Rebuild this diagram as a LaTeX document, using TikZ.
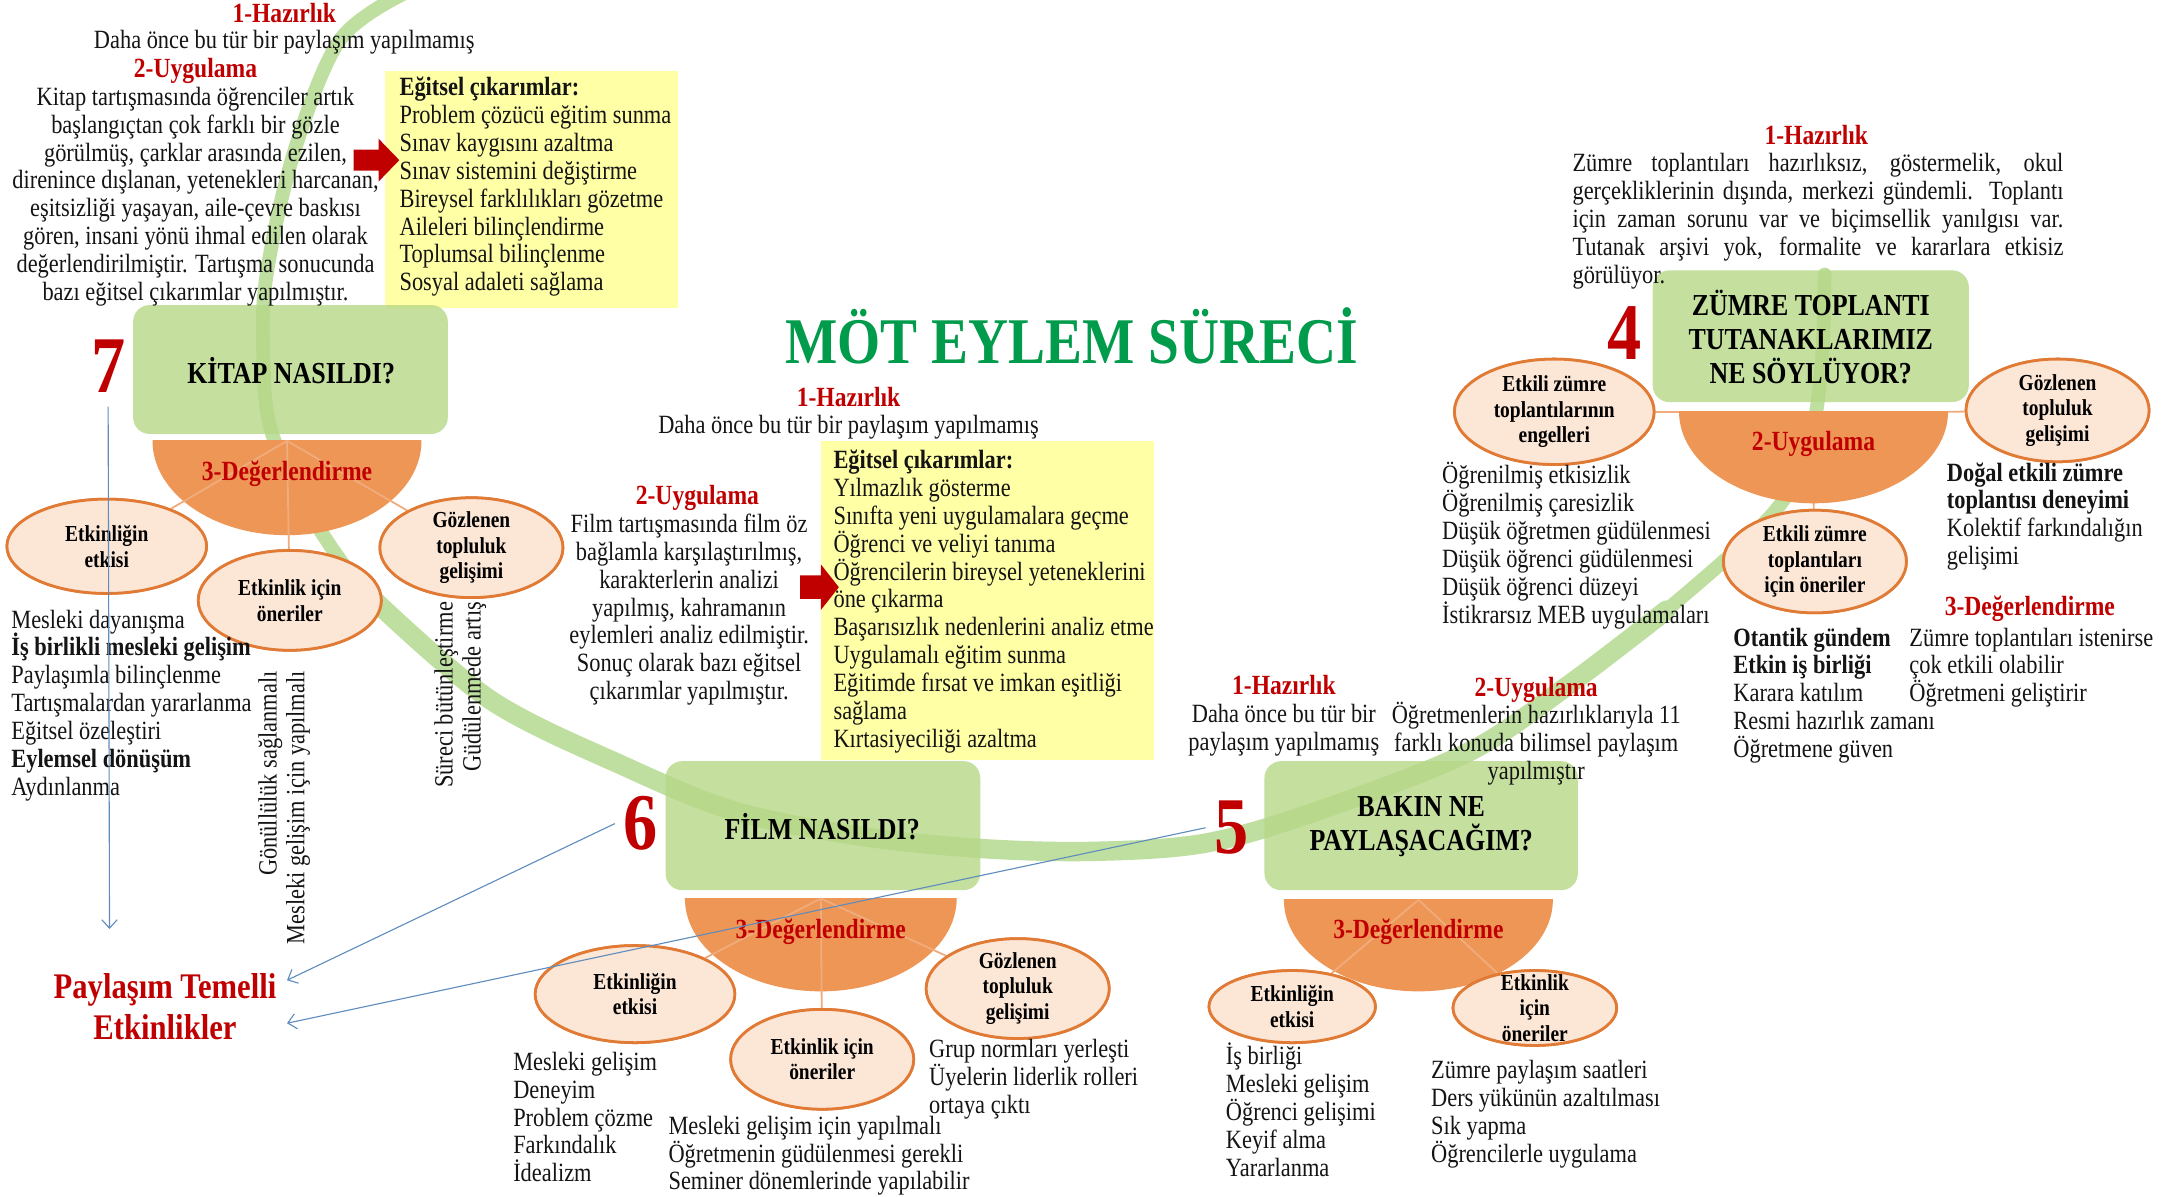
\documentclass[tikz,border=0pt]{standalone}
\usepackage{fontspec}
\setmainfont{Liberation Serif}[FakeStretch=0.85]
\usetikzlibrary{shapes.geometric,arrows.meta}
\definecolor{redtxt}{RGB}{192,0,0}
\definecolor{titlegreen}{RGB}{0,155,75}
\definecolor{boxgreen}{RGB}{183,216,136}
\definecolor{arcgreen}{RGB}{190,223,160}
\definecolor{discorange}{RGB}{238,150,85}
\definecolor{elfill}{RGB}{252,230,214}
\definecolor{elline}{RGB}{224,122,52}
\definecolor{linkorange}{RGB}{240,172,125}
\definecolor{yellowbox}{RGB}{255,255,165}
\definecolor{arrowblue}{RGB}{95,140,190}
\newcommand\txtlines[5]{%
  \foreach \itm [count=\k] in {#5}{%
    \node[txt,anchor=#2] (#1\k) at (#3,{#4+20.1*(\k-1)}) {\itm};}}
\newcommand\halfdisc[4]{%
  \begin{scope}\clip (#1-#3-2,#2) rectangle (#1+#3+2,#2+#4+2);
  \fill[disc] (#1,#2) ellipse[x radius=#3,y radius=#4];\end{scope}}
\begin{document}
\begin{tikzpicture}[x=1pt,y=-1pt,
  txt/.style={inner sep=0pt,text=black!92,font=\fontsize{19}{20.1}\selectfont},
  head/.style={inner sep=0pt,text=redtxt,font=\bfseries\fontsize{20}{22}\selectfont},
  gbox/.style={fill=boxgreen,fill opacity=0.8,rounded corners=12pt},
  boxlabel/.style={inner sep=0pt,align=center,font=\bfseries\fontsize{22}{24.5}\selectfont},
  num/.style={inner sep=0pt,text=redtxt,font=\bfseries\fontsize{58}{60}\selectfont},
  ybox/.style={fill=yellowbox},
  disc/.style={fill=discorange},
  link/.style={draw=linkorange,line width=1.3pt},
  elshape/.style={ellipse,draw=elline,line width=2pt,fill=elfill,inner sep=0pt},
  eltxt/.style={inner sep=0pt,align=center,font=\bfseries\fontsize{16.5}{18.5}\selectfont},
  barrow/.style={draw=arrowblue,line width=0.8pt,-{Straight Barb[length=6pt,width=11pt]}},
  redarr/.style={fill=redtxt},
  arcband/.style={draw=arcgreen,line cap=round,line join=round}
]
\useasboundingbox (0,0) rectangle (1568,863);
\fill[white] (0,0) rectangle (1568,863);

% green arc
\draw[arcband,line width=10pt] plot[smooth,tension=0.55] coordinates {(292,-5) (245,29) (212,110) (192,200) (190,260) (196,312) (225,373) (270,433) (354,505) (451,553) (530,585) (620,603) (708,612) (790,614) (870,608) (950,585) (1058,543) (1130,495) (1202,440) (1279,370) (1305,320) (1314,260) (1316,198)};
\draw[arcband,line width=14pt] plot[smooth,tension=0.55] coordinates {(270,433) (354,505) (451,553) (530,585) (620,603) (708,612) (790,614) (870,608) (950,585) (1058,543) (1130,495) (1202,440)};

% title
\node[inner sep=0pt,text=titlegreen,font=\bfseries\fontsize{47}{50}\selectfont] (title) at (773,242) {MÖT EYLEM SÜRECİ};

% ================= 7 =================
\fill[ybox] (278,51) rectangle (489,222);
\node[gbox,minimum width=227pt,minimum height=93pt,inner sep=0pt] (b7) at (209.5,266.5) {};
\node[boxlabel] (b7t) at (210,267) {KİTAP NASILDI?};
\node[num] (n7) at (78,264) {7};
\halfdisc{207}{318}{97}{68}
\coordinate (h7) at (207,318);
\node[elshape,minimum width=144pt,minimum height=68pt] (e7a) at (77,394) {};
\node[elshape,minimum width=132pt,minimum height=72pt] (e7b) at (209,433) {};
\node[elshape,minimum width=132pt,minimum height=72pt] (e7c) at (340,395) {};
\draw[link] (h7) -- (e7a); \draw[link] (h7) -- (e7b); \draw[link] (h7) -- (e7c);
\node[elshape,minimum width=144pt,minimum height=68pt] at (e7a) {};
\node[elshape,minimum width=132pt,minimum height=72pt] at (e7b) {};
\node[elshape,minimum width=132pt,minimum height=72pt] at (e7c) {};
\node[eltxt] (t7a) at (e7a) {Etkinliğin\\etkisi};
\node[eltxt] (t7b) at (e7b) {Etkinlik için\\öneriler};
\node[eltxt] (t7c) at (e7c) {Gözlenen\\topluluk\\gelişimi};
\node[head] (d7) at (207,342) {3-Değerlendirme};
\fill[redarr] (255,108) -- (273,108) -- (273,100) -- (288,115.5) -- (273,131) -- (273,123) -- (255,123) -- cycle;
\node[head,anchor=base] (h7a) at (205,16) {1-Hazırlık};
\node[txt,anchor=base] (h7b) at (205,35) {Daha önce bu tür bir paylaşım yapılmamış};
\node[head,anchor=base] (u7) at (141,56) {2-Uygulama};
\txtlines{P7}{base}{141}{76}{Kitap tartışmasında öğrenciler artık,başlangıçtan çok farklı bir gözle,{görülmüş, çarklar arasında ezilen,},{direnince dışlanan, yetenekleri harcanan,},{eşitsizliği yaşayan, aile-çevre baskısı},{gören, insani yönü ihmal edilen olarak},{değerlendirilmiştir. Tartışma sonucunda},{bazı eğitsel çıkarımlar yapılmıştır.}}
\txtlines{Y7}{base west}{288}{69}{\textbf{Eğitsel çıkarımlar:},Problem çözücü eğitim sunma,Sınav kaygısını azaltma,Sınav sistemini değiştirme,Bireysel farklılıkları gözetme,Aileleri bilinçlendirme,Toplumsal bilinçlenme,Sosyal adaleti sağlama}
\txtlines{L7}{base west}{8}{453}{Mesleki dayanışma,\textbf{İş birlikli mesleki gelişim},Paylaşımla bilinçlenme,Tartışmalardan yararlanma,Eğitsel özeleştiri,\textbf{Eylemsel dönüşüm},Aydınlanma}
\node[txt,rotate=90,anchor=east,align=right] (r7a) at (205,484) {Gönüllülük sağlanmalı\\Mesleki gelişim için yapılmalı};
\node[txt,rotate=90,anchor=east,align=right] (r7b) at (332,434) {Süreci bütünleştirme\\Güdülenmede artış};

% ================= 6 =================
\fill[ybox] (592,318) rectangle (832,548);
\node[gbox,minimum width=227pt,minimum height=93pt,inner sep=0pt] (b6) at (593.5,595.5) {};
\node[boxlabel] (b6t) at (593,596) {FİLM NASILDI?};
\node[num] (n6) at (462,594) {6};
\halfdisc{592}{648}{98}{67}
\coordinate (h6) at (592,648);
\node[elshape,minimum width=144pt,minimum height=70pt] (e6a) at (458,717) {};
\node[elshape,minimum width=132pt,minimum height=72pt] (e6b) at (593,764) {};
\node[elshape,minimum width=132pt,minimum height=72pt] (e6c) at (734,713) {};
\draw[link] (h6) -- (e6a); \draw[link] (h6) -- (e6b); \draw[link] (h6) -- (e6c);
\node[elshape,minimum width=144pt,minimum height=70pt] at (e6a) {};
\node[elshape,minimum width=132pt,minimum height=72pt] at (e6b) {};
\node[elshape,minimum width=132pt,minimum height=72pt] at (e6c) {};
\node[eltxt] (t6a) at (e6a) {Etkinliğin\\etkisi};
\node[eltxt] (t6b) at (e6b) {Etkinlik için\\öneriler};
\node[eltxt] (t6c) at (e6c) {Gözlenen\\topluluk\\gelişimi};
\node[head] (d6) at (592,672) {3-Değerlendirme};
\fill[redarr] (577,415) -- (592,415) -- (592,407) -- (605,423.5) -- (592,440) -- (592,432) -- (577,432) -- cycle;
\node[head,anchor=base] (h6a) at (612,293) {1-Hazırlık};
\node[txt,anchor=base] (h6b) at (612,313) {Daha önce bu tür bir paylaşım yapılmamış};
\node[head,anchor=base] (u6) at (503,364) {2-Uygulama};
\txtlines{P6}{base}{497}{384}{Film tartışmasında film öz,{bağlamla karşılaştırılmış,},karakterlerin analizi,{yapılmış, kahramanın},eylemleri analiz edilmiştir.,Sonuç olarak bazı eğitsel,çıkarımlar yapılmıştır.}
\txtlines{Y6}{base west}{601}{338}{\textbf{Eğitsel çıkarımlar:},Yılmazlık gösterme,Sınıfta yeni uygulamalara geçme,Öğrenci ve veliyi tanıma,Öğrencilerin bireysel yeteneklerini,öne çıkarma,Başarısızlık nedenlerini analiz etme,Uygulamalı eğitim sunma,Eğitimde fırsat ve imkan eşitliği,sağlama,Kırtasiyeciliği azaltma}
\txtlines{L6a}{base west}{370}{772}{Mesleki gelişim,Deneyim,Problem çözme,Farkındalık,İdealizm}
\txtlines{L6b}{base west}{482}{818}{Mesleki gelişim için yapılmalı,Öğretmenin güdülenmesi gerekli,Seminer dönemlerinde yapılabilir}
\txtlines{L6c}{base west}{670}{763}{Grup normları yerleşti,Üyelerin liderlik rolleri,ortaya çıktı}

% ================= 5 =================
\node[gbox,minimum width=226pt,minimum height=93pt,inner sep=0pt] (b5) at (1025,595.5) {};
\node[boxlabel] (b5t) at (1025,596) {BAKIN NE\\PAYLAŞACAĞIM?};
\node[num] (n5) at (888,597) {5};
\halfdisc{1023}{649}{97}{66}
\coordinate (h5) at (1023,649);
\node[elshape,minimum width=120pt,minimum height=52pt] (e5a) at (932,726) {};
\node[elshape,minimum width=118pt,minimum height=54pt] (e5b) at (1107,727) {};
\draw[link] (h5) -- (e5a); \draw[link] (h5) -- (e5b);
\node[elshape,minimum width=120pt,minimum height=52pt] at (e5a) {};
\node[elshape,minimum width=118pt,minimum height=54pt] at (e5b) {};
\node[eltxt] (t5a) at (e5a) {Etkinliğin\\etkisi};
\node[eltxt] (t5b) at (e5b) {Etkinlik\\için\\öneriler};
\node[head] (d5) at (1023,672) {3-Değerlendirme};
\node[head,anchor=base] (h5a) at (926,501) {1-Hazırlık};
\txtlines{P5a}{base}{926}{521}{Daha önce bu tür bir,paylaşım yapılmamış}
\node[head,anchor=base] (u5) at (1108,502) {2-Uygulama};
\txtlines{P5b}{base}{1108}{522}{Öğretmenlerin hazırlıklarıyla 11,farklı konuda bilimsel paylaşım,yapılmıştır}
\txtlines{L5a}{base west}{884}{768}{İş birliği,Mesleki gelişim,Öğrenci gelişimi,Keyif alma,Yararlanma}
\txtlines{L5b}{base west}{1032}{778}{Zümre paylaşım saatleri,Ders yükünün azaltılması,Sık yapma,Öğrencilerle uygulama}

% ================= 4 =================
\node[gbox,minimum width=228pt,minimum height=95pt,inner sep=0pt] (b4) at (1306,242.5) {};
\node[boxlabel] (b4t) at (1306,243) {ZÜMRE TOPLANTI\\TUTANAKLARIMIZ\\NE SÖYLÜYOR?};
\node[num] (n4) at (1172,240) {4};
\node[elshape,minimum width=144pt,minimum height=76pt] (e4a) at (1121,297) {};
\node[elshape,minimum width=132pt,minimum height=74pt] (e4b) at (1484,296) {};
\node[elshape,minimum width=132pt,minimum height=74pt] (e4c) at (1309,405) {};
\coordinate (h4l) at (1211,297); \coordinate (h4r) at (1405,297); \coordinate (h4b) at (1308,360);
\draw[link] (e4a) -- (h4l); \draw[link] (h4r) -- (e4b); \draw[link] (h4b) -- (e4c);
\halfdisc{1308}{297}{97}{66}
\node[elshape,minimum width=144pt,minimum height=76pt] at (e4a) {};
\node[elshape,minimum width=132pt,minimum height=74pt] at (e4b) {};
\node[elshape,minimum width=132pt,minimum height=74pt] at (e4c) {};
\node[eltxt] (t4a) at (e4a) {Etkili zümre\\toplantılarının\\engelleri};
\node[eltxt] (t4b) at (e4b) {Gözlenen\\topluluk\\gelişimi};
\node[eltxt] (t4c) at (e4c) {Etkili zümre\\toplantıları\\için öneriler};
\node[head] (u4) at (1308,320) {2-Uygulama};
\node[head,anchor=base] (h4a) at (1310,104) {1-Hazırlık};
\node[txt,anchor=base west] (p4a) at (1134,124) {\makebox[354pt][s]{Zümre toplantıları hazırlıksız, göstermelik, okul}};
\node[txt,anchor=base west] (p4b) at (1134,144.1) {\makebox[354pt][s]{gerçekliklerinin dışında, merkezi gündemli. Toplantı}};
\node[txt,anchor=base west] (p4c) at (1134,164.2) {\makebox[354pt][s]{için zaman sorunu var ve biçimsellik yanılgısı var.}};
\node[txt,anchor=base west] (p4d) at (1134,184.3) {\makebox[354pt][s]{Tutanak arşivi yok, formalite ve kararlara etkisiz}};
\node[txt,anchor=base west] (p4e) at (1134,204.4) {görülüyor.};
\txtlines{L4a}{base west}{1040}{349}{Öğrenilmiş etkisizlik,Öğrenilmiş çaresizlik,Düşük öğretmen güdülenmesi,Düşük öğrenci güdülenmesi,Düşük öğrenci düzeyi,İstikrarsız MEB uygulamaları}
\txtlines{L4b}{base west}{1404}{347}{\textbf{Doğal etkili zümre},\textbf{toplantısı deneyimi},Kolektif farkındalığın,gelişimi}
\node[head] (d4) at (1464,439) {3-Değerlendirme};
\txtlines{L4c}{base west}{1377}{466}{Zümre toplantıları istenirse,çok etkili olabilir,Öğretmeni geliştirir}
\txtlines{L4d}{base west}{1250}{466}{\textbf{Otantik gündem},\textbf{Etkin iş birliği},Karara katılım,Resmi hazırlık zamanı,Öğretmene güven}

% ================= Paylaşım =================
\node[inner sep=0pt,align=center,text=redtxt,font=\bfseries\fontsize{26}{29}\selectfont] (pte) at (119,726) {Paylaşım Temelli\\Etkinlikler};
\coordinate (pA) at (207,707);
\coordinate (pB) at (207,738);
\coordinate (pC) at (79,670);
\draw[barrow] ([xshift=-6pt]n6.west) -- (pA);
\draw[barrow] ([xshift=-6pt]n5.west) -- (pB);
\draw[barrow] ([yshift=-10pt]n7.south) -- (pC);
\end{tikzpicture}
\end{document}
